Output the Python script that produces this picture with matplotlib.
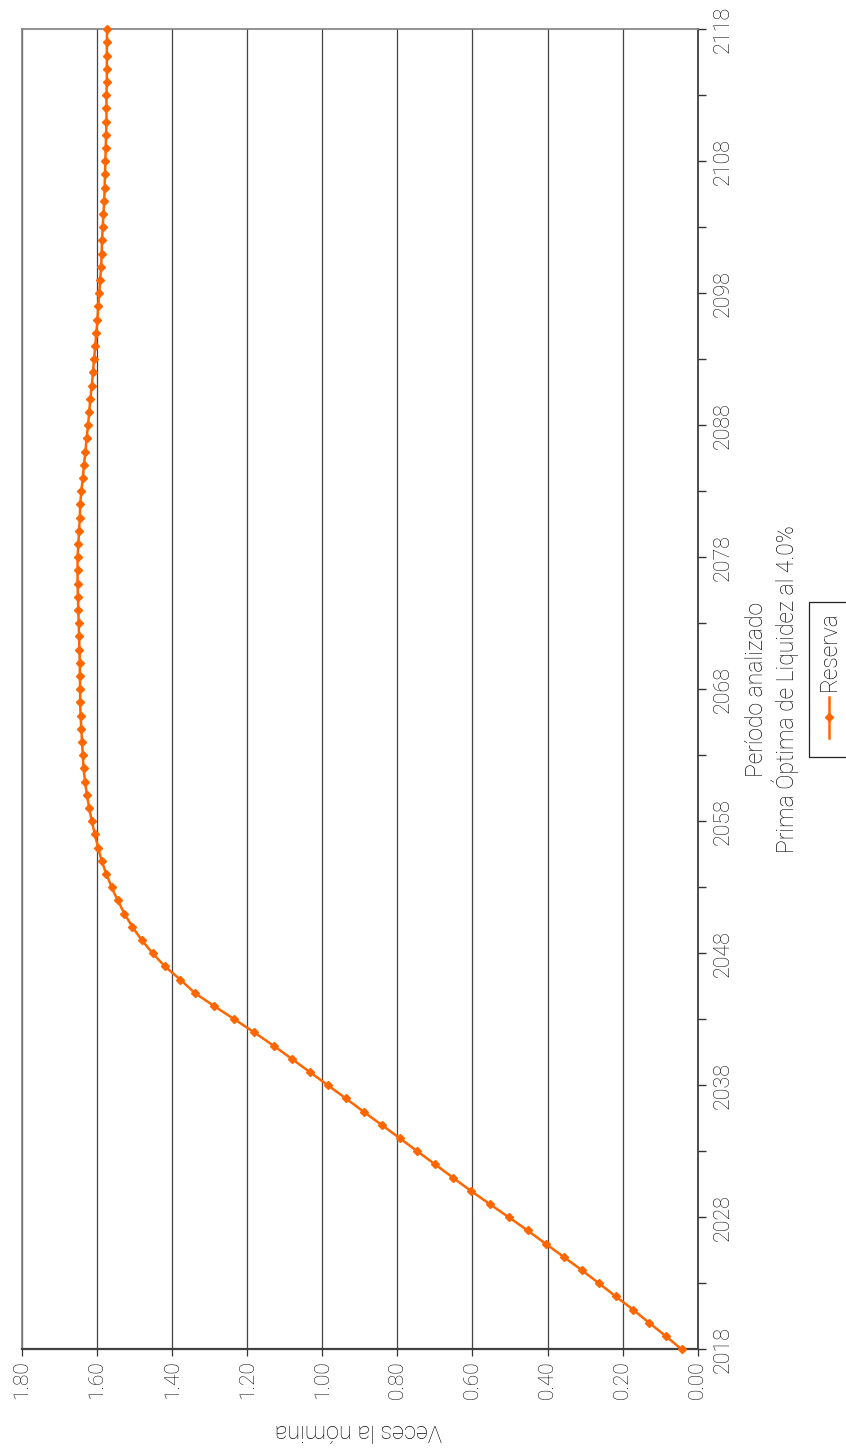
"""
Reserve projection (times the payroll) by year, drawn in the rotated layout
of the source page: years run bottom->top on the right, values run
right->left along the bottom, and every text is turned to match.
"""

import matplotlib
matplotlib.use("Agg")
import matplotlib.pyplot as plt
from matplotlib.lines import Line2D
from matplotlib.patches import Rectangle
import numpy as np

# --- data -------------------------------------------------------------------
years = np.arange(2018, 2119)
reserva = [
    0.043, 0.085, 0.129, 0.172, 0.218, 0.263, 0.309, 0.357, 0.405, 0.453,  # 2018-2027
    0.503, 0.554, 0.604, 0.652, 0.699, 0.747, 0.794, 0.842, 0.890, 0.937,  # 2028-2037
    0.985, 1.033, 1.081, 1.130, 1.181, 1.234, 1.288, 1.340, 1.378, 1.419,  # 2038-2047
    1.452, 1.481, 1.506, 1.527, 1.545, 1.561, 1.575, 1.588, 1.597, 1.606,  # 2048-2057
    1.614, 1.621, 1.627, 1.632, 1.636, 1.638, 1.640, 1.642, 1.644, 1.645,  # 2058-2067
    1.645, 1.646, 1.646, 1.647, 1.648, 1.649, 1.650, 1.651, 1.652, 1.652,  # 2068-2077
    1.652, 1.650, 1.648, 1.646, 1.645, 1.642, 1.638, 1.635, 1.631, 1.628,  # 2078-2087
    1.624, 1.621, 1.618, 1.614, 1.611, 1.608, 1.605, 1.602, 1.599, 1.597,  # 2088-2097
    1.594, 1.592, 1.589, 1.588, 1.587, 1.585, 1.583, 1.581, 1.580, 1.579,  # 2098-2107
    1.578, 1.577, 1.576, 1.575, 1.575, 1.575, 1.574, 1.574, 1.574, 1.574,  # 2108-2117
    1.573,                                                                 # 2118
]
value_ticks = [0.0, 0.2, 0.4, 0.6, 0.8, 1.0, 1.2, 1.4, 1.6, 1.8]
value_labels = [f"{v:.2f}" for v in value_ticks]
year_ticks = list(range(2018, 2119, 10))
year_minor = list(range(2023, 2118, 10))
series_name = "Reserva"
value_title = "Veces la nómina"
year_title = "Período analizado\nPrima Óptima de Liquidez al 4.0%"

ORANGE = "#FF6600"
TEXT = "#111111"

plt.rcParams["font.family"] = ["Roboto", "DejaVu Sans"]
plt.rcParams["font.weight"] = "light"

W, H = 846, 1452
fig = plt.figure(figsize=(W / 100, H / 100), dpi=100)

# plot area in pixels: x 22 -> 697.7, y 29.3 -> 1349.3 (top-down)
ax = fig.add_axes([22 / W, 1 - 1349.3 / H, (697.7 - 22) / W, (1349.3 - 29.3) / H])

ax.plot(reserva, years, color=ORANGE, lw=1.8, marker="D", ms=4.0,
        mec=ORANGE, mfc=ORANGE, zorder=3, clip_on=False)

ax.set_xlim(1.8, 0)
ax.set_ylim(2018, 2118)

ax.set_xticks(value_ticks)
ax.set_xticklabels(value_labels, rotation=90, color=TEXT, fontsize=15)
ax.grid(axis="x", color="#444444", lw=0.9)
ax.set_axisbelow(True)

ax.yaxis.tick_right()
ax.set_yticks(year_ticks)
ax.set_yticks(year_minor, minor=True)
ax.set_yticklabels([str(y) for y in year_ticks], rotation=90, va="center",
                   color=TEXT, fontsize=15.5)

ax.tick_params(axis="x", direction="out", length=5, color="#333333", width=0.9, pad=3)
ax.tick_params(axis="y", which="both", direction="out", length=6,
               color="#333333", width=1.0, pad=5)

for side, col, lw in [("left", "#808080", 1.2), ("top", "#808080", 1.2),
                      ("bottom", "#404040", 1.6), ("right", "#303030", 1.2)]:
    ax.spines[side].set_color(col)
    ax.spines[side].set_linewidth(lw)

# axis titles, turned like the rest of the page
fig.text(358 / W, 1 - 1430 / H, value_title, rotation=180, ha="center", va="center",
         color=TEXT, fontsize=17)
fig.text(772 / W, 1 - 689 / H, year_title, rotation=90, ha="center", va="center",
         multialignment="center", color=TEXT, fontsize=16.5, linespacing=1.15)

# hand-built legend (matplotlib legends can't be rotated)
fig.patches.append(Rectangle((809 / W, 1 - 757 / H), 60 / W, 155 / H,
                             transform=fig.transFigure, fill=False,
                             ec="#222222", lw=0.9))
fig.lines.append(Line2D([829 / W, 829 / W], [1 - 697 / H, 1 - 738 / H],
                        transform=fig.transFigure, color=ORANGE, lw=1.8))
fig.lines.append(Line2D([829 / W], [1 - 717.5 / H], transform=fig.transFigure,
                        color=ORANGE, marker="D", ms=4.0, lw=0))
fig.text(829 / W, 1 - 651 / H, series_name, rotation=90, ha="center", va="center",
         color=TEXT, fontsize=16.5)

fig.savefig("out.png", dpi=100)
